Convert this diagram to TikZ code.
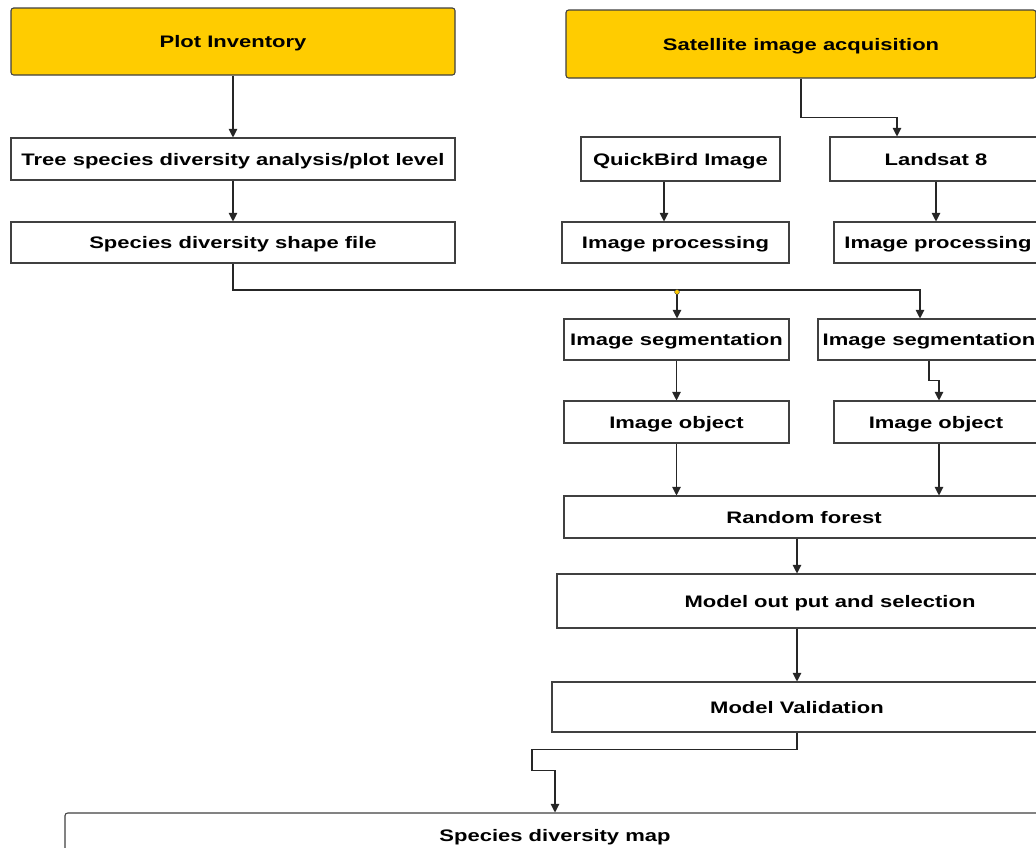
\documentclass[tikz,border=0pt]{standalone}
\usepackage{fontspec}
\newfontfamily\boxfont[FakeStretch=1.32]{Liberation Sans}
\usetikzlibrary{arrows.meta}
\definecolor{gold}{RGB}{255,204,0}
\definecolor{edge}{RGB}{64,64,64}

\begin{document}
\begin{tikzpicture}[x=0.75pt, y=-0.75pt,
                    box/.style={draw=edge, line width=0.8pt, fill=white, inner sep=0pt,
                                text height=9pt, text depth=0pt,
                                font=\boxfont\bfseries\fontsize{12.5}{15}\selectfont},
                    topbox/.style={box, fill=gold, rounded corners=2pt},
                    arr/.style={-{Triangle[length=6.5pt,width=6.5pt]}, line width=0.8pt, black!85},]
    \clip (0,0) rectangle (1036,847);
    % nodes
    \node[topbox, minimum width=333pt,   minimum height=50.25pt] (plot)    at (233,41.5)   {Plot Inventory};
    \node[topbox, minimum width=352.5pt, minimum height=51pt]    (sat)     at (801,44)     {Satellite image acquisition};
    \node[box,    minimum width=333pt,   minimum height=31.5pt]  (tree)    at (233,159)    {Tree species diversity analysis/plot level};
    \node[box,    minimum width=333pt,   minimum height=30.75pt] (shape)   at (233,242.5)  {Species diversity shape file};
    \node[box,    minimum width=149.25pt, minimum height=33pt]   (quick)   at (680.5,159)  {QuickBird Image};
    \node[box,    minimum width=170.25pt, minimum height=30.75pt] (iproca) at (675.5,242.5) {Image processing};
    \node[box,    minimum width=159pt,   minimum height=33pt]    (landsat) at (936,159)    {Landsat 8};
    \node[box,    minimum width=156pt,   minimum height=30.75pt] (iprocb)  at (938,242.5)  {Image processing};
    \node[box,    minimum width=168.75pt, minimum height=30.75pt] (sega)   at (676.5,339.5) {Image segmentation};
    \node[box,    minimum width=166.5pt, minimum height=30.75pt] (segb)    at (929,339.5)  {Image segmentation};
    \node[box,    minimum width=168.75pt, minimum height=31.5pt] (obja)    at (676.5,422)  {Image object};
    \node[box,    minimum width=153pt,   minimum height=31.5pt]  (objb)    at (936,422)    {Image object};
    \node[box,    minimum width=360pt,   minimum height=31.5pt]  (rf)      at (804,517)    {Random forest};
    \node[box,    minimum width=409.5pt, minimum height=40.5pt]  (mout)    at (830,601)    {Model out put and selection};
    \node[box,    minimum width=367.5pt, minimum height=37.5pt]  (mval)    at (797,707)    {Model Validation};
    \node[box, rounded corners=2pt, minimum width=735pt, minimum height=33pt] (map) at (555,835) {Species diversity map};
    \coordinate (split) at (677,290);
    % lines
    \draw[arr] (plot) -- (tree);
    \draw[arr] (tree) -- (shape);
    \draw[arr] (shape.south) |- (split) -| ([xshift=-6.75pt]segb.north);
    \draw[arr] (split) -- (sega.north -| split);
    \fill[gold, draw=edge, line width=0.3pt] ([yshift=-1.5pt]split) circle (1.8pt);
    \draw[arr] (sat.south) -- ++(0,39) -| ([xshift=-29.25pt]landsat.north);
    \draw[arr] ([xshift=-12.375pt]quick.south) -- ([xshift=-8.625pt]iproca.north);
    \draw[arr] (landsat.south) -- (landsat.south |- iprocb.north);
    \draw[arr] (sega) -- (obja);
    \draw[arr] (segb.south) -- ++(0,20) -| ([xshift=2.25pt]objb.north);
    \draw[arr] (obja.south) -- (obja.south |- rf.north);
    \draw[arr] ([xshift=2.25pt]objb.south) -- ([xshift=2.25pt]objb.south |- rf.north);
    \draw[arr] (mval.north |- rf.south) -- (mval.north |- mout.north);
    \draw[arr] (mval.north |- mout.south) -- (mval.north);
    \draw[arr] (mval.south) -- ++(0,17) -- ++(-265,0) -- ++(0,21) -| (map.north);
\end{tikzpicture}
\end{document}
